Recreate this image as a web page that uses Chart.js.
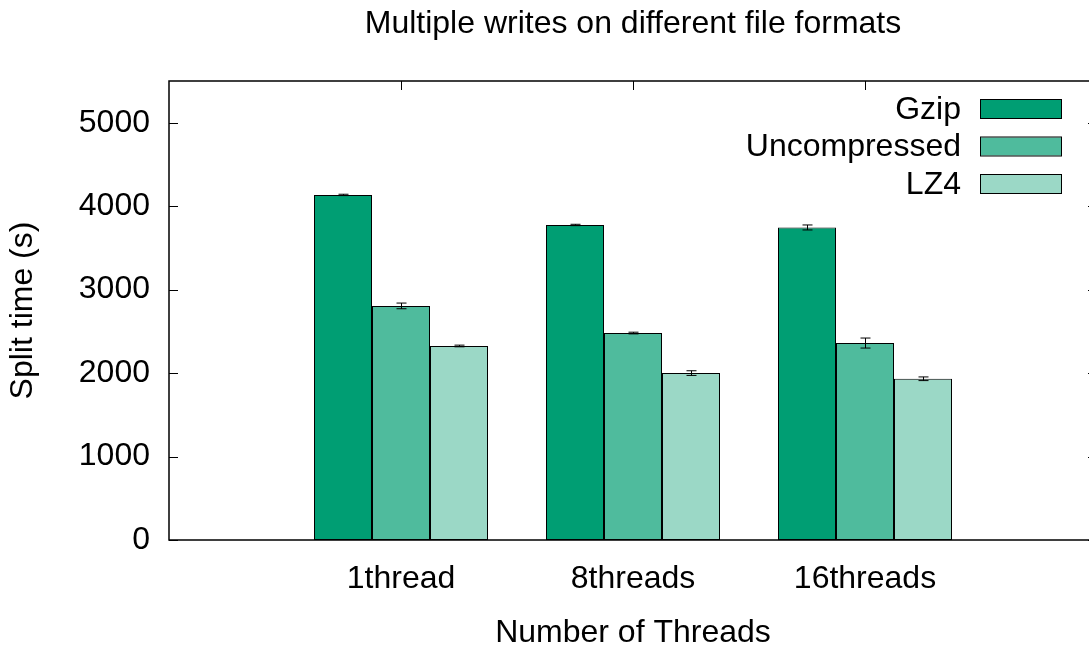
<!DOCTYPE html>
<html>
<head>
<meta charset="utf-8">
<title>Multiple writes on different file formats</title>
<script src="https://cdn.jsdelivr.net/npm/chart.js@4/dist/chart.umd.min.js"></script>
<style>
  html, body { margin: 0; padding: 0; background: #fff; overflow: hidden; }
  #wrap { width: 1100px; height: 649px; }
</style>
</head>
<body>
<div id="wrap"><canvas id="c" width="1100" height="649"></canvas></div>
<script>
// Split times per thread count (seconds) with their spread
const categories = ['1thread', '8threads', '16threads'];
const seriesNames = ['Gzip', 'Uncompressed', 'LZ4'];
const gzip = [4135, 3775, 3745];
const gzipErr = [8, 8, 30];
const uncompressed = [2805, 2480, 2360];
const uncompressedErr = [34, 10, 60];
const lz4 = [2325, 2000, 1932];
const lz4Err = [10, 28, 22];
const yTicks = [0, 1000, 2000, 3000, 4000, 5000];
const colors = ['#009e73', '#4fbb9d', '#9bd8c6'];

const FONT = 'Liberation Sans, Arial, sans-serif';
const FS = 32;

// one empty slot either side keeps the groups where the x range puts them
const labels = [''].concat(categories, ['']);
const pad = arr => [null].concat(arr, [null]);
const values = [gzip, uncompressed, lz4];
const errors = [gzipErr, uncompressedErr, lz4Err];

const datasets = values.map((v, i) => ({
  label: seriesNames[i],
  data: pad(v),
  errs: pad(errors[i]),
  backgroundColor: colors[i],
  borderColor: '#000',
  borderWidth: 1,
  borderSkipped: false,
  categoryPercentage: 0.75,
  barPercentage: 1.0
}));

// error bars from each bar's value +/- spread
const errorBars = {
  id: 'errorBars',
  afterDatasetsDraw(chart) {
    const ctx = chart.ctx, y = chart.scales.y;
    ctx.save();
    ctx.strokeStyle = '#000';
    ctx.lineWidth = 1;
    chart.data.datasets.forEach((ds, di) => {
      const meta = chart.getDatasetMeta(di);
      meta.data.forEach((bar, i) => {
        const v = ds.data[i], e = ds.errs[i];
        if (v == null) return;
        const x = Math.round(bar.x) + 0.5;
        const y1 = y.getPixelForValue(v - e), y2 = y.getPixelForValue(v + e);
        ctx.beginPath();
        ctx.moveTo(x, y1); ctx.lineTo(x, y2);
        ctx.moveTo(x - 5, y1); ctx.lineTo(x + 5, y1);
        ctx.moveTo(x - 5, y2); ctx.lineTo(x + 5, y2);
        ctx.stroke();
      });
    });
    ctx.restore();
  }
};

// closed border with inward tick marks, plus title and key
const frame = {
  id: 'frame',
  afterDatasetsDraw(chart) {
    const ctx = chart.ctx, a = chart.chartArea;
    const xs = chart.scales.x, ys = chart.scales.y;
    ctx.save();
    ctx.strokeStyle = '#000';
    ctx.lineWidth = 1;
    ctx.beginPath();
    yTicks.forEach(t => {
      const py = Math.round(ys.getPixelForValue(t)) + 0.5;
      ctx.moveTo(a.left, py); ctx.lineTo(a.left + 9, py);
      ctx.moveTo(a.right, py); ctx.lineTo(a.right - 9, py);
    });
    categories.forEach((c, i) => {
      const px = Math.round(xs.getPixelForValue(i + 1)) + 0.5;
      ctx.moveTo(px, a.top); ctx.lineTo(px, a.top + 9);
    });
    ctx.stroke();
    ctx.lineWidth = 1.5;
    ctx.strokeRect(a.left, a.top, a.right - a.left, a.bottom - a.top);
    ctx.restore();
  },
  afterDraw(chart) {
    const ctx = chart.ctx, a = chart.chartArea;
    ctx.save();
    ctx.fillStyle = '#000';
    ctx.font = FS + 'px ' + FONT;
    ctx.textAlign = 'center';
    ctx.textBaseline = 'middle';
    ctx.fillText('Multiple writes on different file formats', (a.left + a.right) / 2, 24);
    // key
    ctx.textAlign = 'right';
    const rows = [109, 146.5, 184];
    seriesNames.forEach((n, i) => {
      ctx.fillStyle = '#000';
      ctx.fillText(n, 961, rows[i] + 1);
      ctx.fillStyle = colors[i];
      ctx.fillRect(980, rows[i] - 9, 81, 18);
      ctx.strokeStyle = '#000';
      ctx.lineWidth = 1;
      ctx.strokeRect(980.5, rows[i] - 9.5, 81, 19);
    });
    ctx.restore();
  }
};

new Chart(document.getElementById('c'), {
  type: 'bar',
  data: { labels, datasets },
  options: {
    responsive: false,
    animation: false,
    layout: { padding: { top: 81, right: 3, left: 0, bottom: 0 } },
    plugins: { legend: { display: false }, title: { display: false }, tooltip: { enabled: false } },
    scales: {
      x: {
        type: 'category',
        offset: false,
        grid: { display: false, offset: false, drawTicks: false },
        border: { display: false },
        ticks: { color: '#000', font: { family: FONT, size: FS }, padding: 20, maxRotation: 0, autoSkip: false },
        title: { display: true, text: 'Number of Threads', color: '#000', font: { family: FONT, size: FS }, padding: { top: 0, bottom: -3 } },
        afterFit(s) { s.height = 109; s.paddingLeft = 0; s.paddingRight = 0; }
      },
      y: {
        min: 0, max: 5500,
        grid: { display: false, drawTicks: false },
        border: { display: false },
        ticks: { stepSize: 1000, color: '#000', font: { family: FONT, size: FS }, padding: 19, callback: v => String(v) },
        afterBuildTicks(s) { s.ticks = yTicks.map(v => ({ value: v })); },
        title: { display: true, text: 'Split time (s)', color: '#000', font: { family: FONT, size: FS }, padding: { top: 4, bottom: 0 } },
        afterFit(s) { s.width = 169; s.paddingTop = 0; s.paddingBottom = 0; }
      }
    }
  },
  plugins: [errorBars, frame]
});
</script>
</body>
</html>
